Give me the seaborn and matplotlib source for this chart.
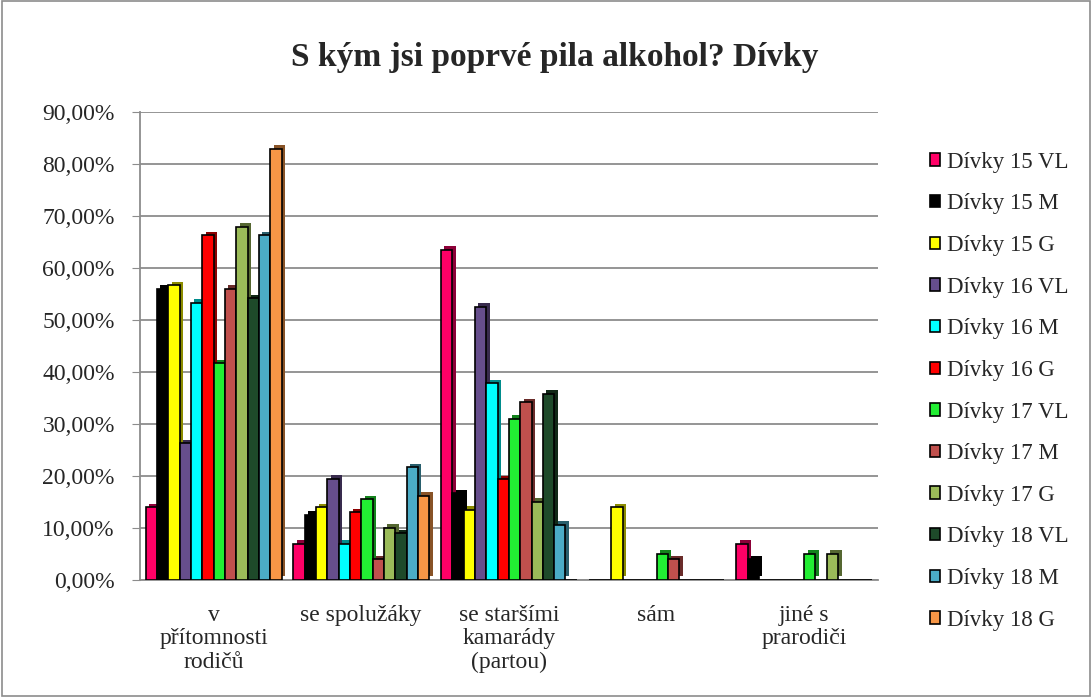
import pandas as pd
import matplotlib.pyplot as plt
import matplotlib.patheffects as pe
import matplotlib.colors as mcolors
from matplotlib.patches import Rectangle
from matplotlib.ticker import FuncFormatter, MultipleLocator
import seaborn as sns

# kategorie na ose x
kategorie = ['v\npřítomnosti\nrodičů', 'se spolužáky', 'se staršími\nkamarády\n(partou)',
             'sám', 'jiné s\nprarodiči']

# skupiny (legenda)
skupiny = ['Dívky 15 VL', 'Dívky 15 M', 'Dívky 15 G', 'Dívky 16 VL', 'Dívky 16 M', 'Dívky 16 G',
           'Dívky 17 VL', 'Dívky 17 M', 'Dívky 17 G', 'Dívky 18 VL', 'Dívky 18 M', 'Dívky 18 G']

# hodnoty v % pro kazdou skupinu (poradi = kategorie)
d15_vl = [14.0, 7.0, 63.5, 0.0, 7.0]
d15_m = [56.0, 12.5, 16.7, 0.0, 4.0]
d15_g = [56.7, 14.0, 13.5, 14.0, 0.0]
d16_vl = [26.3, 19.5, 52.6, 0.0, 0.0]
d16_m = [53.3, 7.0, 37.8, 0.0, 0.0]
d16_g = [66.3, 13.0, 19.4, 0.0, 0.0]
d17_vl = [41.7, 15.5, 31.0, 5.0, 5.0]
d17_m = [56.0, 4.0, 34.2, 4.0, 0.0]
d17_g = [68.0, 10.0, 15.0, 0.0, 5.0]
d18_vl = [54.2, 9.0, 35.8, 0.0, 0.0]
d18_m = [66.3, 21.7, 10.6, 0.0, 0.0]
d18_g = [83.0, 16.2, 0.0, 0.0, 0.0]

hodnoty = [d15_vl, d15_m, d15_g, d16_vl, d16_m, d16_g,
           d17_vl, d17_m, d17_g, d18_vl, d18_m, d18_g]

barvy = ['#FF0066', '#000000', '#FFFF00', '#664E8C', '#00FFFF', '#FF0000',
         '#22EE33', '#C0504D', '#9BBB59', '#1E4A2A', '#4BACC6', '#F79646']

# dataframe v dlouhem formatu pro seaborn
radky = []
for s, vals in zip(skupiny, hodnoty):
    for k, v in zip(kategorie, vals):
        radky.append({'kategorie': k, 'skupina': s, 'hodnota': v / 100})
df = pd.DataFrame(radky)

sns.set_style('white')
plt.rcParams['font.family'] = ['Liberation Serif', 'DejaVu Serif']

fig = plt.figure(figsize=(10.92, 6.97), dpi=100)
ax = fig.add_axes([0.128, 0.168, 0.676, 0.671])

sns.barplot(data=df, x='kategorie', y='hodnota', hue='skupina', order=kategorie,
            hue_order=skupiny, palette=barvy, width=0.92, edgecolor='black',
            linewidth=1.2, saturation=1, ax=ax, zorder=3)

# jednoduchy "3D" efekt - tmavsi stin vpravo nahore
for cont, c in zip(ax.containers, barvy):
    tmavsi = [x * 0.55 for x in mcolors.to_rgb(c)]
    for bar in cont:
        bar.set_path_effects([pe.SimplePatchShadow(offset=(2.5, 2.5), shadow_rgbFace=tmavsi, alpha=1),
                              pe.Normal()])

ax.set_ylim(0, 0.9)
ax.yaxis.set_major_locator(MultipleLocator(0.1))
ax.yaxis.set_major_formatter(FuncFormatter(lambda v, p: f'{v*100:.2f}%'.replace('.', ',')))
ax.yaxis.grid(True, color='#8c8c8c', linewidth=1.3, zorder=0)
ax.set_axisbelow(True)
ax.set_xlim(-0.5, 4.5)

for side in ['top', 'right']:
    ax.spines[side].set_visible(False)
ax.spines['left'].set_color('#8c8c8c')
ax.spines['bottom'].set_color('#8c8c8c')
ax.spines['left'].set_linewidth(1.3)
ax.spines['bottom'].set_linewidth(1.3)

ax.tick_params(axis='y', labelsize=17, length=6, color='#8c8c8c', left=True, pad=12)
ax.tick_params(axis='x', labelsize=17, length=0, pad=18)
for t in ax.get_xticklabels():
    t.set_linespacing(1.15)
ax.set_xlabel('')
ax.set_ylabel('')

fig.text(0.508, 0.918, 'S kým jsi poprvé pila alkohol? Dívky', fontsize=24, fontweight='bold',
         ha='center', va='center')

# legenda
handles, labels = ax.get_legend_handles_labels()
ax.legend(handles, labels, loc='upper left', bbox_to_anchor=(1.058, 0.935), frameon=False,
          fontsize=16.5, handlelength=0.45, handleheight=0.45, handletextpad=0.3, labelspacing=0.9,
          borderaxespad=0)

# ramecek kolem cele figury
fig.patches.append(Rectangle((0.002, 0.002), 0.996, 0.996, transform=fig.transFigure,
                             fill=False, edgecolor='#8c8c8c', linewidth=1.2))

plt.savefig('out.png', dpi=100)
